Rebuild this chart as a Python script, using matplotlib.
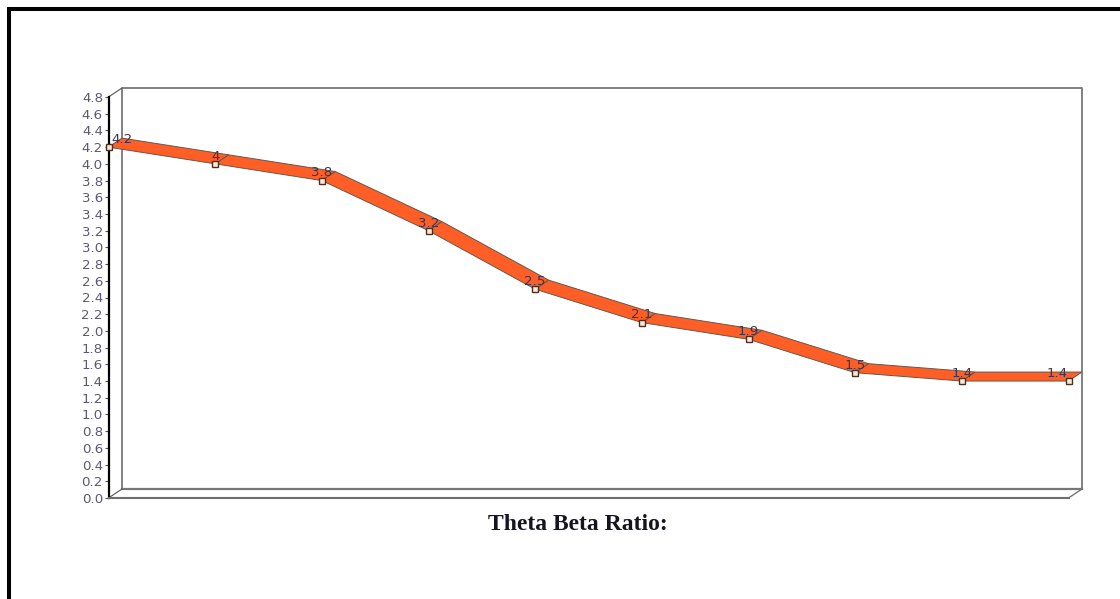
import numpy as np
import matplotlib
matplotlib.use("Agg")
import matplotlib.pyplot as plt
from matplotlib.patches import Polygon, Rectangle
from matplotlib.lines import Line2D

# Data
values = [4.2, 4.0, 3.8, 3.2, 2.5, 2.1, 1.9, 1.5, 1.4, 1.4]
value_labels = ['4.2', '4', '3.8', '3.2', '2.5', '2.1', '1.9', '1.5', '1.4', '1.4']
y_ticks = [0.0, 0.2, 0.4, 0.6, 0.8, 1.0, 1.2, 1.4, 1.6, 1.8, 2.0, 2.2, 2.4,
           2.6, 2.8, 3.0, 3.2, 3.4, 3.6, 3.8, 4.0, 4.2, 4.4, 4.6, 4.8]
x = np.arange(len(values))

W, H = 1120, 599
fig = plt.figure(figsize=(W / 100, H / 100), dpi=100, facecolor='white')

# Front plane of the fake 3D box, in pixels
left, right, top, bottom = 108.5, 1068.5, 97, 498
ax = fig.add_axes([left / W, 1 - bottom / H, (right - left) / W, (bottom - top) / H])
ax.set_xlim(0, 9)
ax.set_ylim(0, 4.8)
ax.patch.set_visible(False)

# Depth offset of the box, converted to data units
dx = 13.5 / ((right - left) / 9)
dy = 9 / ((bottom - top) / 4.8)

for s in ['top', 'right']:
    ax.spines[s].set_visible(False)
ax.spines['left'].set_color('black')
ax.spines['left'].set_linewidth(1.6)
ax.spines['bottom'].set_color('#6e6e6e')
ax.spines['bottom'].set_linewidth(1.5)
ax.set_xticks([])
ax.set_yticks(y_ticks)
ax.set_yticklabels(['%.1f' % t for t in y_ticks], fontsize=9.6, color='#5d5870')
ax.tick_params(axis='y', length=3, width=0.8, color='#555555', pad=1)

# Back wall and floor
wall = '#777777'
ax.plot([dx, dx, 9 + dx, 9 + dx], [dy, 4.8 + dy, 4.8 + dy, dy], color=wall, lw=1.3, clip_on=False, zorder=1)
ax.plot([dx, 9 + dx], [dy, dy], color=wall, lw=1.6, clip_on=False, zorder=1)
ax.plot([0, dx], [0, dy], color='#555555', lw=0.8, clip_on=False, zorder=1)
ax.plot([9, 9 + dx], [0, dy], color=wall, lw=1.0, clip_on=False, zorder=1)
ax.plot([0, dx], [4.8, 4.8 + dy], color='#555555', lw=0.8, clip_on=False, zorder=1)

# Ribbon, one polygon per segment
for i in range(len(values) - 1):
    pts = [(x[i], values[i]), (x[i + 1], values[i + 1]),
           (x[i + 1] + dx, values[i + 1] + dy), (x[i] + dx, values[i] + dy)]
    ax.add_patch(Polygon(pts, closed=True, facecolor='#ff5f26', edgecolor='#6a5548',
                         lw=0.7, clip_on=False, zorder=3))
ax.plot(x, values, linestyle='none', marker='s', ms=5, mfc='#ffe6d6', mec='#4a3020',
        mew=1.0, clip_on=False, zorder=4)

# Value labels
for i, lab in enumerate(value_labels):
    shift = 0
    if i == 0:
        shift = 10
    elif i == len(values) - 1:
        shift = -8
    ax.annotate(lab, (x[i], values[i]), xytext=(shift, 5.5), textcoords='offset points',
                ha='center', va='center', fontsize=9.6, color='#3a3550',
                annotation_clip=False, zorder=5)

# Caption, clipped just after the colon starts
cap = fig.text(488 / W, 1 - 525 / H, 'Theta Beta Ratio:', ha='left', va='center',
               fontsize=17, fontweight='bold', family='Liberation Serif', color='#15151f')
cap.set_clip_path(Rectangle((0, 0), 673, H, transform=None))
cap.set_clip_on(True)

# Thick page frame on the top and left
fig.add_artist(Line2D([9 / W, 9 / W], [0, 1 - 7 / H], color='black', lw=2.9, solid_capstyle='butt'))
fig.add_artist(Line2D([7 / W, 1], [1 - 9 / H, 1 - 9 / H], color='black', lw=2.9, solid_capstyle='butt'))

fig.savefig('out.png', dpi=100)
